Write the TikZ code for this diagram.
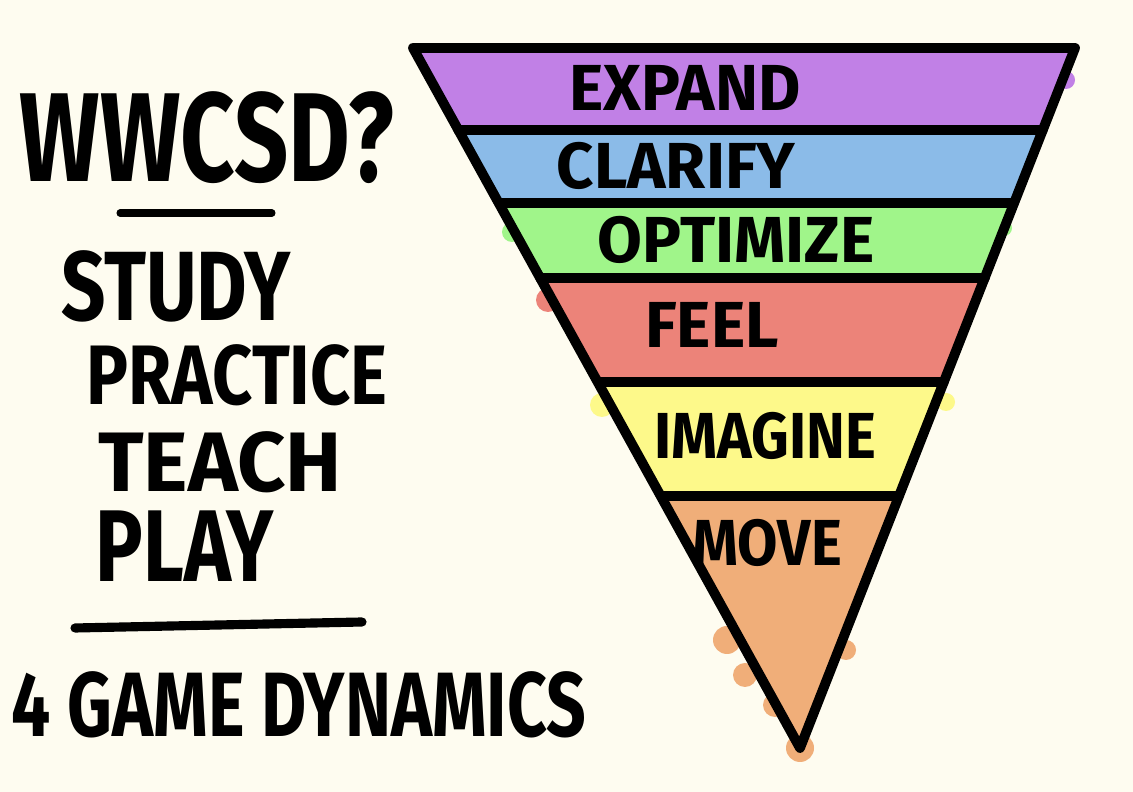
\documentclass[tikz,border=0pt]{standalone}
\usepackage{fontspec}
\setmainfont{Fira Sans}
\usetikzlibrary{calc}

\definecolor{paper}{HTML}{FEFCF0}
\definecolor{expandc}{HTML}{C180E6}
\definecolor{clarifyc}{HTML}{8BBBE8}
\definecolor{optimizec}{HTML}{A0F58A}
\definecolor{feelc}{HTML}{EC8379}
\definecolor{imaginec}{HTML}{FDF98A}
\definecolor{movec}{HTML}{F0AE79}

\begin{document}
\begin{tikzpicture}[x=0.01cm,y=-0.01cm,
    ink/.style={line width=2.8pt,line cap=round,line join=round},
    band/.style={font=\bfseries\fontsize{18.5}{18.5}\selectfont},
    side/.style={inner sep=0pt,font=\bfseries\fontsize{#1}{#1}\selectfont},
    side/.default=30]
    \fill[paper] (0,0) rectangle (1133,792);
    \useasboundingbox (0,0) rectangle (1133,792);

    % corners of the funnel
    \coordinate (tl) at (413,48);
    \coordinate (tr) at (1075,48);
    \coordinate (apex) at (800,748);

    % left and right edge at each divider
    \coordinate (l1) at (458,130);  \coordinate (r1) at (1043,130);
    \coordinate (l2) at (499,203);  \coordinate (r2) at (1014,203);
    \coordinate (l3) at (540,278);  \coordinate (r3) at (985,278);
    \coordinate (l4) at (598,382);  \coordinate (r4) at (944,382);
    \coordinate (l5) at (661,496);  \coordinate (r5) at (899,496);

    % spilled colour outside the outline
    \fill[expandc] (1066,80) circle (9);
    \fill[clarifyc] (487,150) circle (10);
    \fill[optimizec] (512,232) circle (10);
    \fill[optimizec] (1004,228) circle (8);
    \fill[feelc] (548,300) circle (12);
    \fill[imaginec] (602,405) circle (12);
    \fill[imaginec] (946,402) circle (9);
    \fill[movec] (727,640) circle (14);
    \fill[movec] (745,675) circle (12);
    \fill[movec] (775,705) circle (12);
    \fill[movec] (838,612) circle (13);
    \fill[movec] (846,650) circle (10);
    \fill[movec] (800,748) circle (14);

    % colour bands
    \fill[expandc] (tl) -- (tr) -- (r1) -- (l1) -- cycle;
    \fill[clarifyc] (l1) -- (r1) -- (r2) -- (l2) -- cycle;
    \fill[optimizec] (l2) -- (r2) -- (r3) -- (l3) -- cycle;
    \fill[feelc] (l3) -- (r3) -- (r4) -- (l4) -- cycle;
    \fill[imaginec] (l4) -- (r4) -- (r5) -- (l5) -- cycle;
    \fill[movec] (l5) -- (r5) -- (apex) -- cycle;

    % outline and dividers
    \draw[ink] (tl) -- (tr) -- (apex) -- cycle;
    \draw[ink] (l1) -- (r1);
    \draw[ink] (l2) -- (r2);
    \draw[ink] (l3) -- (r3);
    \draw[ink] (l4) -- (r4);
    \draw[ink] (l5) -- (r5);

    % band labels
    \node[band] (expand) at (685,88) {EXPAND};
    \node[band] (clarify) at (676,166) {CLARIFY};
    \node[band] (optimize) at (736,240) {OPTIMIZE};
    \node[band] (feel) at (712,325) {FEEL};
    \node[band] (imagine) at (765,436) {\scalebox{0.9}[1]{IMAGINE}};
    \node[band] (move) at (767,543) {\scalebox{0.9}[1]{MOVE}};

    % left column
    \node[side=36] (wwcsd) at (207,138) {\scalebox{0.75}[1]{WWCSD?}};
    \draw[line width=2pt,line cap=round] (120,213) -- (272,213);
    \node[side=28] (study) at (176,286) {\scalebox{0.79}[1]{STUDY}};
    \node[side=24] (practice) at (237,375) {\scalebox{0.83}[1]{PRACTICE}};
    \node[side=24] (teach) at (220,462) {\scalebox{1}[1]{TEACH}};
    \node[side=29] (play) at (185,546) {\scalebox{0.78}[1]{PLAY}};
    \draw[line width=2.6pt,line cap=round] (75,628) -- (362,622);
    \node[side=26] (dynamics) at (299,705) {\scalebox{0.76}[1]{4 GAME DYNAMICS}};
\end{tikzpicture}
\end{document}
